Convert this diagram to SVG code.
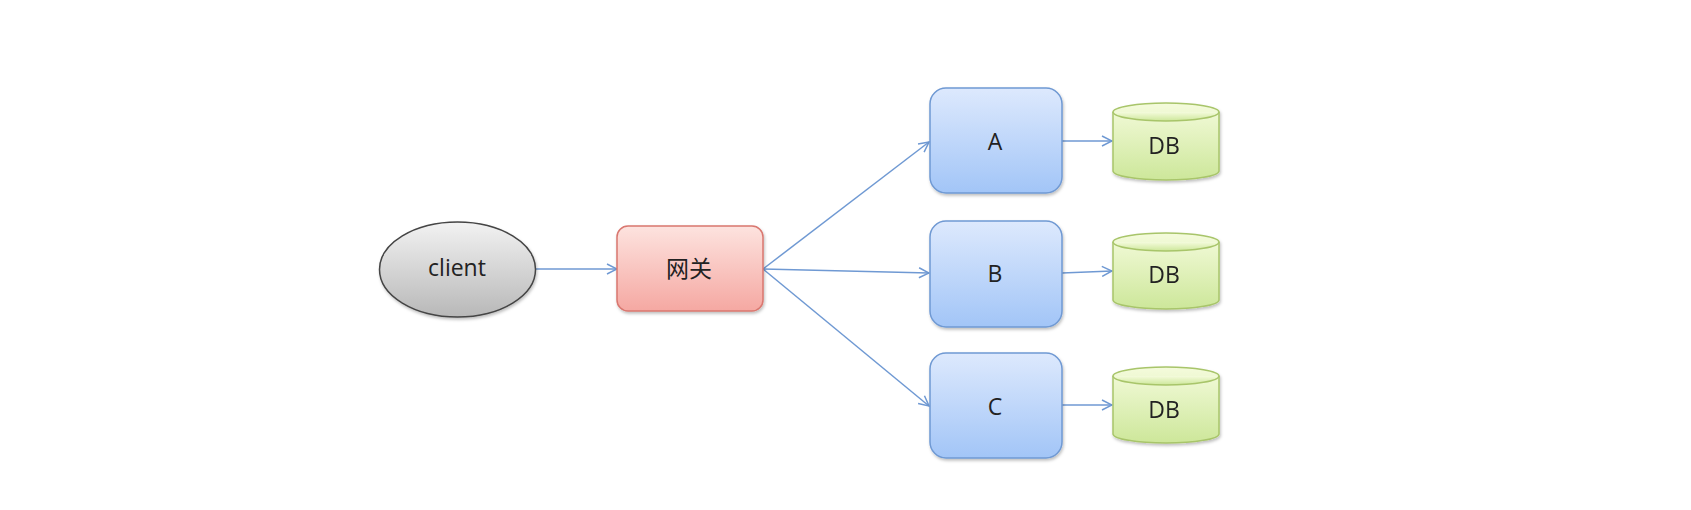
<svg xmlns="http://www.w3.org/2000/svg" width="1691" height="510" viewBox="0 0 1691 510">
<defs>
<linearGradient id="gBlue" x1="0" y1="0" x2="0" y2="1"><stop offset="0" stop-color="#dde9fd"/><stop offset="1" stop-color="#a2c5f7"/></linearGradient>
<linearGradient id="gRed" x1="0" y1="0" x2="0" y2="1"><stop offset="0" stop-color="#fde3df"/><stop offset="1" stop-color="#f5a8a2"/></linearGradient>
<linearGradient id="gGray" x1="0" y1="0" x2="0" y2="1"><stop offset="0" stop-color="#f2f2f2"/><stop offset="1" stop-color="#b8b8b8"/></linearGradient>
<linearGradient id="gGreen" x1="0" y1="0" x2="0" y2="1"><stop offset="0" stop-color="#f4fbdc"/><stop offset="1" stop-color="#cde79a"/></linearGradient>
<filter id="sh" x="-10%" y="-10%" width="130%" height="130%"><feDropShadow dx="1" dy="2" stdDeviation="1.5" flood-color="#000" flood-opacity="0.25"/></filter>
<marker id="arr" viewBox="0 0 12 12" refX="11" refY="6" markerWidth="12" markerHeight="12" markerUnits="userSpaceOnUse" orient="auto"><path d="M1,1 L11,6 L1,11" fill="none" stroke="#6f99d3" stroke-width="1.5"/></marker>
</defs>
<style>
.t{font-family:"Open Sans","Liberation Sans","Noto Sans CJK SC",sans-serif;font-size:23px;fill:#222;text-anchor:middle;dominant-baseline:central}
.svc{fill:url(#gBlue);stroke:#6f99d3;stroke-width:1.5;filter:url(#sh)}
.db{fill:url(#gGreen);stroke:#a8c56a;stroke-width:1.5}
.c{stroke:#6f99d3;stroke-width:1.5;fill:none;marker-end:url(#arr)}
</style>
<rect width="1691" height="510" fill="#fff"/>
<g id="connectors">
<line class="c" x1="536" y1="269" x2="617" y2="269"/>
<line class="c" x1="763" y1="269" x2="929" y2="142"/>
<line class="c" x1="763" y1="269" x2="929" y2="273"/>
<line class="c" x1="763" y1="269" x2="929" y2="406"/>
<line class="c" x1="1062" y1="141" x2="1112" y2="141"/>
<line class="c" x1="1062" y1="273" x2="1112" y2="271"/>
<line class="c" x1="1062" y1="405" x2="1112" y2="405"/>
</g>
<g id="client">
<ellipse cx="457.5" cy="269.5" rx="78" ry="47.5" fill="url(#gGray)" stroke="#444" stroke-width="1.5" filter="url(#sh)"/>
<text class="t" x="457" y="267">client</text>
</g>
<g id="gateway">
<rect x="617" y="226" width="146" height="85" rx="11" fill="url(#gRed)" stroke="#d9776f" stroke-width="1.5" filter="url(#sh)"/>
<text class="t" x="689" y="268">网关</text>
</g>
<g id="A">
<rect class="svc" x="930" y="88" width="132" height="105" rx="16"/>
<text class="t" x="995" y="141">A</text>
</g>
<g id="B">
<rect class="svc" x="930" y="221" width="132" height="106" rx="16"/>
<text class="t" x="995" y="273">B</text>
</g>
<g id="C">
<rect class="svc" x="930" y="353" width="132" height="105" rx="16"/>
<text class="t" x="995" y="406">C</text>
</g>
<g id="dbA" filter="url(#sh)">
<path class="db" d="M1113,112 L1113,171 A53,9 0 0 0 1219,171 L1219,112 A53,9 0 0 0 1113,112 Z"/>
<path class="db" d="M1113,112 A53,9 0 0 0 1219,112" fill="none"/>
<text class="t" x="1164" y="145">DB</text>
</g>
<g id="dbB" filter="url(#sh)">
<path class="db" d="M1113,242 L1113,300 A53,9 0 0 0 1219,300 L1219,242 A53,9 0 0 0 1113,242 Z"/>
<path class="db" d="M1113,242 A53,9 0 0 0 1219,242" fill="none"/>
<text class="t" x="1164" y="274">DB</text>
</g>
<g id="dbC" filter="url(#sh)">
<path class="db" d="M1113,376 L1113,434 A53,9 0 0 0 1219,434 L1219,376 A53,9 0 0 0 1113,376 Z"/>
<path class="db" d="M1113,376 A53,9 0 0 0 1219,376" fill="none"/>
<text class="t" x="1164" y="409">DB</text>
</g>
</svg>
